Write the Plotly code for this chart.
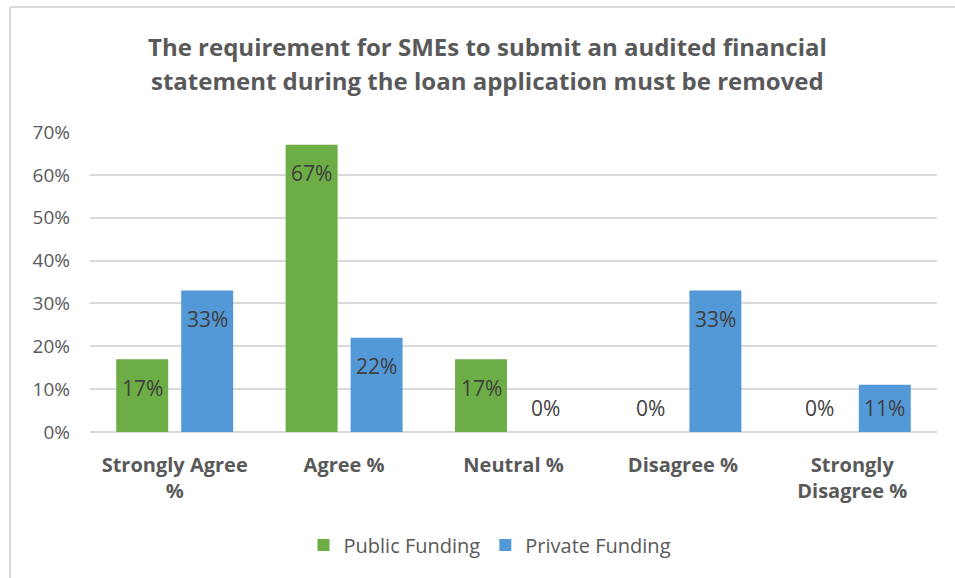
import plotly.graph_objects as go

# Survey responses by funding type
categories = ["Strongly Agree<br>%", "Agree %", "Neutral %", "Disagree %", "Strongly<br>Disagree %"]
public_funding = [0.17, 0.67, 0.17, 0.00, 0.00]
private_funding = [0.33, 0.22, 0.00, 0.33, 0.11]
y_ticks = [0, 0.1, 0.2, 0.3, 0.4, 0.5, 0.6, 0.7]
y_tick_labels = ["0%", "10%", "20%", "30%", "40%", "50%", "60%", "70%"]

TEXT = "#595959"
LABEL = "#404040"
GREEN = "#6dad45"
BLUE = "#5398d7"
FONT = "Open Sans"

W, H = 955, 578
M_L, M_R, M_T, M_B = 90, 18, 132, 146
plot_h = H - M_T - M_B
y_max = 0.7
slot_px = (W - M_L - M_R) / len(categories)
offset_px = slot_px * (1 - 0.233) / 4  # half of one bar slot inside a group

fig = go.Figure()
fig.add_trace(go.Bar(name="Public Funding", x=categories, y=public_funding,
                     marker=dict(color=GREEN, line=dict(width=0))))
fig.add_trace(go.Bar(name="Private Funding", x=categories, y=private_funding,
                     marker=dict(color=BLUE, line=dict(width=0))))

# Value labels: near the top inside each bar, pushed above the baseline for short bars
annotations = []
for series, sign in ((public_funding, -1), (private_funding, 1)):
    for cat, val in zip(categories, series):
        h_px = val / y_max * plot_h
        drop = min(28.5, h_px - 24.5)
        annotations.append(dict(
            x=cat, y=val, xref="x", yref="y", text=f"{val:.0%}",
            showarrow=False, xshift=sign * offset_px, yshift=-drop,
            font=dict(family=FONT, size=21, color=LABEL),
            xanchor="center", yanchor="middle"))

# Chart title on two lines
title_lines = ["The requirement for SMEs to submit an audited financial",
               "statement during the loan application must be removed"]
for i, line in enumerate(title_lines):
    annotations.append(dict(
        x=(487 - M_L) / (W - M_L - M_R), y=(H - M_B - (47 + 33 * i)) / plot_h,
        xref="paper", yref="paper", text=line, showarrow=False,
        xanchor="center", yanchor="middle",
        font=dict(family=FONT, size=24, color=TEXT, weight="bold")))

# Chart-area frame (left and top edges)
def px_x(px):
    return (px - M_L) / (W - M_L - M_R)

def px_y(py):
    return (H - M_B - py) / plot_h

shapes = [
    dict(type="line", xref="paper", yref="paper", x0=px_x(10), x1=px_x(10),
         y0=px_y(7), y1=px_y(H + 5), line=dict(color="#d9d9d9", width=2)),
    dict(type="line", xref="paper", yref="paper", x0=px_x(10), x1=px_x(W + 5),
         y0=px_y(7), y1=px_y(7), line=dict(color="#d9d9d9", width=2)),
]

fig.update_layout(
    width=W, height=H,
    margin=dict(l=M_L, r=M_R, t=M_T, b=M_B),
    paper_bgcolor="white", plot_bgcolor="white",
    barmode="group", bargap=0.233, bargroupgap=0.2,
    font=dict(family=FONT, color=TEXT),
    annotations=annotations, shapes=shapes,
    showlegend=True,
    legend=dict(orientation="h", x=px_x(490), xanchor="center",
                y=px_y(545), yanchor="middle",
                font=dict(family=FONT, size=20, color=TEXT),
                itemwidth=30, traceorder="normal"),
)
fig.update_xaxes(
    showgrid=False, showline=False, ticks="",
    tickfont=dict(family=FONT, size=20, color=TEXT, weight="bold"),
    ticklabelstandoff=19,
)
fig.update_yaxes(
    range=[0, y_max], tickvals=y_ticks, ticktext=y_tick_labels,
    showgrid=True, gridcolor="#d9d9d9", gridwidth=1.5,
    zeroline=True, zerolinecolor="#d9d9d9", zerolinewidth=1.5,
    showline=False, ticks="", ticklabelstandoff=19,
    tickfont=dict(family=FONT, size=19, color=TEXT),
)

fig.write_html("out.html")
